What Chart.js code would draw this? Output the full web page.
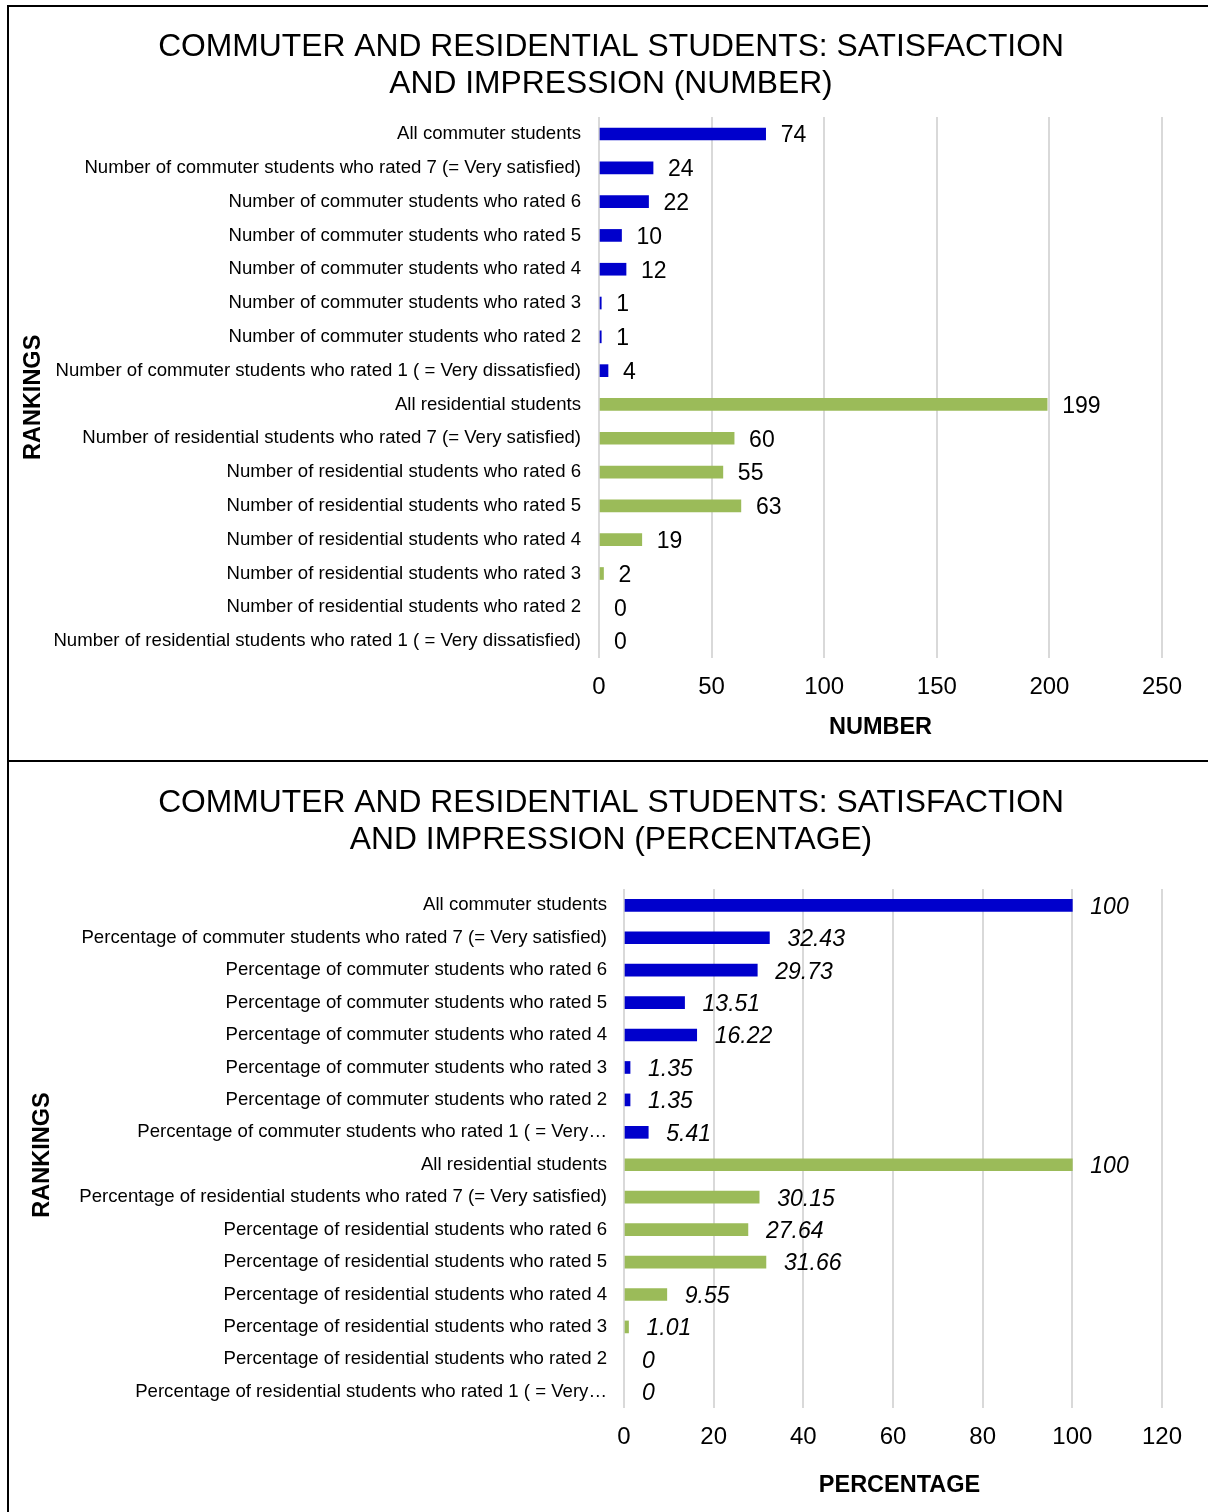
<!DOCTYPE html>
<html>
<head>
<meta charset="utf-8">
<title>Commuter and residential students: satisfaction and impression</title>
<script src="https://cdn.jsdelivr.net/npm/chart.js@4.4.1/dist/chart.umd.min.js"></script>
<style>
  html, body { margin: 0; padding: 0; background: #fff; }
  body { width: 1208px; height: 1512px; position: relative; overflow: hidden; }
  .chart { position: absolute; left: 0; width: 1208px; }
  .frame { position: absolute; left: 7px; width: 1400px; border: 2px solid #000; box-sizing: border-box; pointer-events: none; }
</style>
</head>
<body>
<div class="chart" style="top:0;height:760px"><canvas id="numberChart"></canvas></div>
<div class="chart" style="top:762px;height:750px"><canvas id="percentChart"></canvas></div>
<div class="frame" style="top:5px;height:757px"></div>
<div class="frame" style="top:760px;height:800px"></div>

<script>
// ---- data ----
const numberCategories = [
  'All commuter students',
  'Number of commuter students who rated 7 (= Very satisfied)',
  'Number of commuter students who rated 6',
  'Number of commuter students who rated 5',
  'Number of commuter students who rated 4',
  'Number of commuter students who rated 3',
  'Number of commuter students who rated 2',
  'Number of commuter students who rated 1 ( = Very dissatisfied)',
  'All residential students',
  'Number of residential students who rated 7 (= Very satisfied)',
  'Number of residential students who rated 6',
  'Number of residential students who rated 5',
  'Number of residential students who rated 4',
  'Number of residential students who rated 3',
  'Number of residential students who rated 2',
  'Number of residential students who rated 1 ( = Very dissatisfied)'
];
const numberValues = [74, 24, 22, 10, 12, 1, 1, 4, 199, 60, 55, 63, 19, 2, 0, 0];

const percentCategories = [
  'All commuter students',
  'Percentage of commuter students who rated 7 (= Very satisfied)',
  'Percentage of commuter students who rated 6',
  'Percentage of commuter students who rated 5',
  'Percentage of commuter students who rated 4',
  'Percentage of commuter students who rated 3',
  'Percentage of commuter students who rated 2',
  'Percentage of commuter students who rated 1 ( = Very\u2026',
  'All residential students',
  'Percentage of residential students who rated 7 (= Very satisfied)',
  'Percentage of residential students who rated 6',
  'Percentage of residential students who rated 5',
  'Percentage of residential students who rated 4',
  'Percentage of residential students who rated 3',
  'Percentage of residential students who rated 2',
  'Percentage of residential students who rated 1 ( = Very\u2026'
];
const percentValues = [100, 32.43, 29.73, 13.51, 16.22, 1.35, 1.35, 5.41, 100, 30.15, 27.64, 31.66, 9.55, 1.01, 0, 0];

// which student group each row belongs to
const rowGroups = [
  'commuter', 'commuter', 'commuter', 'commuter', 'commuter', 'commuter', 'commuter', 'commuter',
  'residential', 'residential', 'residential', 'residential', 'residential', 'residential', 'residential', 'residential'
];

const numberTicks = { min: 0, max: 250, step: 50 };
const percentTicks = { min: 0, max: 120, step: 20 };

// ---- styling ----
const FONT = '"Liberation Sans", Arial, Helvetica, sans-serif';
const groupColors = { commuter: '#0000CC', residential: '#9BBB59' };
const GRID = '#D9D9D9';

// writes each bar's value just past its end
const valueLabels = {
  id: 'valueLabels',
  afterDatasetsDraw(chart, args, opts) {
    const { ctx } = chart;
    const meta = chart.getDatasetMeta(0);
    const values = chart.data.datasets[0].data;
    ctx.save();
    ctx.font = opts.font;
    ctx.fillStyle = '#000';
    ctx.textAlign = 'left';
    ctx.textBaseline = 'middle';
    meta.data.forEach((bar, i) => {
      ctx.fillText(String(values[i]), bar.x + opts.offset, bar.y + 2);
    });
    ctx.restore();
  }
};

function buildChart(canvasId, cfg) {
  return new Chart(document.getElementById(canvasId), {
    type: 'bar',
    data: {
      labels: cfg.categories,
      datasets: [{
        data: cfg.values,
        backgroundColor: cfg.values.map((v, i) => v === 0 ? 'rgba(0,0,0,0)' : groupColors[rowGroups[i]]),
        borderWidth: 0,
        barThickness: 12
      }]
    },
    options: {
      indexAxis: 'y',
      responsive: true,
      maintainAspectRatio: false,
      animation: false,
      layout: { padding: { top: cfg.padTop, left: 14, right: 0, bottom: 0 } },
      plugins: {
        legend: { display: false },
        tooltip: { enabled: false },
        title: {
          display: true,
          text: cfg.title,
          color: '#000',
          font: { family: FONT, size: 31.8, weight: 'normal', lineHeight: 1.165 },
          padding: { top: 0, bottom: cfg.titleGap }
        },
        valueLabels: { font: cfg.valueFont, offset: cfg.valueOffset }
      },
      scales: {
        y: {
          type: 'category',
          grid: { display: false, drawTicks: false },
          border: { display: false },
          ticks: { color: '#000', font: { family: FONT, size: 18.6 }, padding: cfg.labelPad, autoSkip: false },
          title: {
            display: true,
            text: cfg.rankTitle,
            color: '#000',
            font: { family: FONT, size: 23.5, weight: 'bold', lineHeight: 1.2 },
            padding: { top: cfg.rankPad, bottom: 0 }
          },
          afterFit(scale) { scale.width = cfg.yAxisWidth; }
        },
        x: {
          type: 'linear',
          min: cfg.ticks.min,
          max: cfg.ticks.max,
          grid: { color: GRID, lineWidth: 2, drawTicks: false },
          border: { display: false },
          ticks: { stepSize: cfg.ticks.step, color: '#000', font: { family: FONT, size: 24 }, padding: 15 },
          title: {
            display: true,
            text: cfg.axisTitle,
            color: '#000',
            font: { family: FONT, size: 23.5, weight: 'bold', lineHeight: 1.2 },
            padding: { top: 0, bottom: cfg.axisTitlePad }
          },
          afterFit(scale) { scale.height = cfg.xAxisHeight; }
        },
        // empty strip on the right that keeps the plot clear of the frame edge
        rightGutter: {
          type: 'linear',
          axis: 'y',
          position: 'right',
          display: true,
          grid: { display: false, drawTicks: false },
          border: { display: false },
          ticks: { display: false },
          afterFit(scale) { scale.width = 46; }
        }
      }
    },
    plugins: [valueLabels]
  });
}

buildChart('numberChart', {
  categories: numberCategories,
  values: numberValues,
  ticks: numberTicks,
  title: ['COMMUTER AND RESIDENTIAL STUDENTS: SATISFACTION', 'AND IMPRESSION (NUMBER)'],
  axisTitle: 'NUMBER',
  rankTitle: 'RANKINGS   ',
  padTop: 28.5,
  titleGap: 14.5,
  yAxisWidth: 585,
  xAxisHeight: 102,
  axisTitlePad: 18,
  labelPad: 18,
  rankPad: 5,
  valueFont: '23px ' + FONT,
  valueOffset: 15
});

buildChart('percentChart', {
  categories: percentCategories,
  values: percentValues,
  ticks: percentTicks,
  title: ['COMMUTER AND RESIDENTIAL STUDENTS: SATISFACTION', 'AND IMPRESSION (PERCENTAGE)'],
  axisTitle: '  PERCENTAGE',
  rankTitle: 'RANKINGS  ',
  padTop: 22.5,
  titleGap: 30.5,
  yAxisWidth: 610,
  xAxisHeight: 104,
  axisTitlePad: 12,
  labelPad: 17,
  rankPad: 14,
  valueFont: 'italic 23px ' + FONT,
  valueOffset: 18
});
</script>
</body>
</html>
